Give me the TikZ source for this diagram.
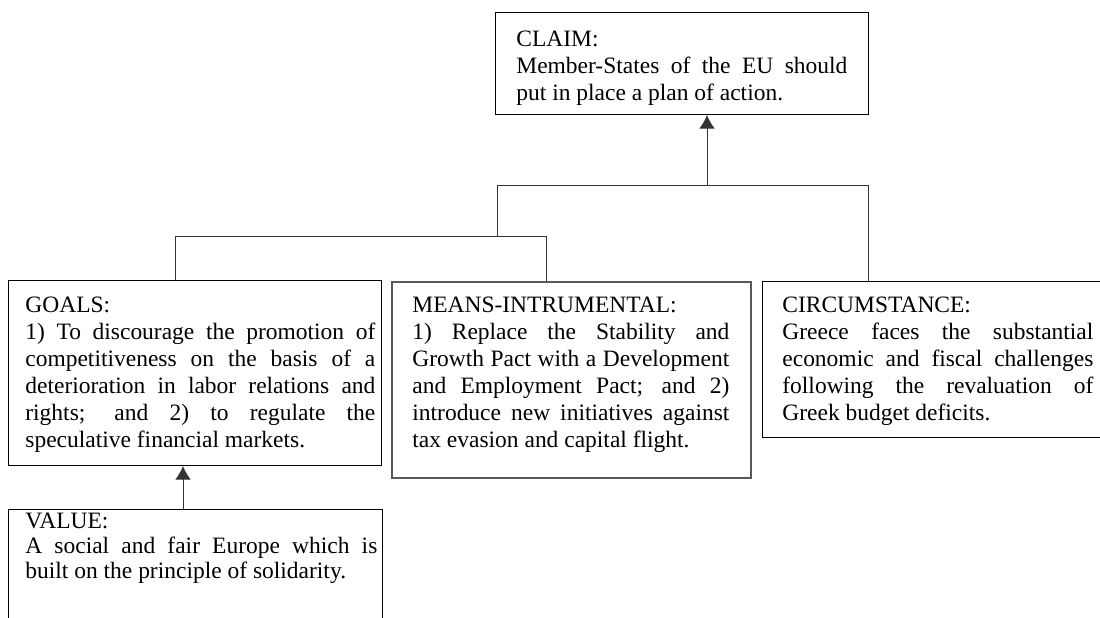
\documentclass[tikz,border=0pt]{standalone}
\usepackage{fontspec}
\setmainfont{Liberation Serif}
\usetikzlibrary{arrows.meta}
\tikzset{>={Latex[length=7pt,width=8pt]}}
\newdimen\px
\px=0.511pt

\begin{document}
\begin{tikzpicture}[x=0.511pt, y=-0.511pt,
    box/.style={draw, line width=.5pt, anchor=north west, inner sep=0pt},
    txt/.style={anchor=north west, inner sep=0pt, align=justify,
      font=\fontsize{12}{13.8}\selectfont,
      execute at begin node={\tolerance=10000\hyphenpenalty=10000\exhyphenpenalty=10000}},
    link/.style={line width=.5pt, draw=black!80}]
    \useasboundingbox (0,0) rectangle (1100,617);
    \clip (0,0) rectangle (1100,617);
    % boxes
    \node[box, minimum width=373\px, minimum height=102\px](claim)at(495,12){};
    \node[box, minimum width=373\px, minimum height=185\px](goals)at(8,280){};
    \node[box, line width=1pt, draw=black!65, minimum width=359\px, minimum height=196\px](means)at(391,281){};
    \node[box, minimum width=360\px, minimum height=156\px](circ)at(762,281){};
    \node[box, minimum width=374\px, minimum height=131\px](value)at(8,509){};
    % texts
    \node[txt, text width=331\px](claimtext)at(516,31){CLAIM:\\
      Member-States of the EU should\linebreak put in place a plan of action.};
    \node[txt, text width=350\px](goalstext)at(25,297){GOALS:\\
      1) To discourage the promotion of\linebreak competitiveness on the basis of a\linebreak
      deterioration in labor relations and\linebreak rights; and 2) to regulate the\linebreak
      speculative financial markets.};
    \node[txt, text width=317\px](meanstext)at(412,297){MEANS-INTRUMENTAL:\\
      1) Replace the Stability and\linebreak Growth Pact with a Development\linebreak
      and Employment Pact; and 2)\linebreak introduce new initiatives against\linebreak
      tax evasion and capital flight.};
    \node[txt, text width=311\px](circtext)at(782,297){CIRCUMSTANCE:\\
      Greece faces the substantial\linebreak economic and fiscal challenges\linebreak
      following the revaluation of\linebreak Greek budget deficits.};
    \node[txt, text width=352\px, font=\fontsize{12}{12.8}\selectfont](valuetext)at(25,513){VALUE:\\
      A social and fair Europe which is\linebreak built on the principle of solidarity.};
    % connectors
    \coordinate(claimin)at(707,185);
    \coordinate(barL)at(497,185);
    \coordinate(barR)at(868,185);
    \coordinate(forkL)at(175,236);
    \coordinate(forkR)at(546,236);
    \coordinate(valout)at(183,509);
    \draw[link](barL |- forkL)--(barL)--(barR)--(barR |- circ.north);
    \draw[link](forkL |- goals.north)--(forkL)--(forkR)--(forkR |- means.north);
    \draw[link, ->](claimin)--(claimin |- claim.south);
    \draw[link, ->](valout)--(valout |- goals.south);
\end{tikzpicture}
\end{document}
